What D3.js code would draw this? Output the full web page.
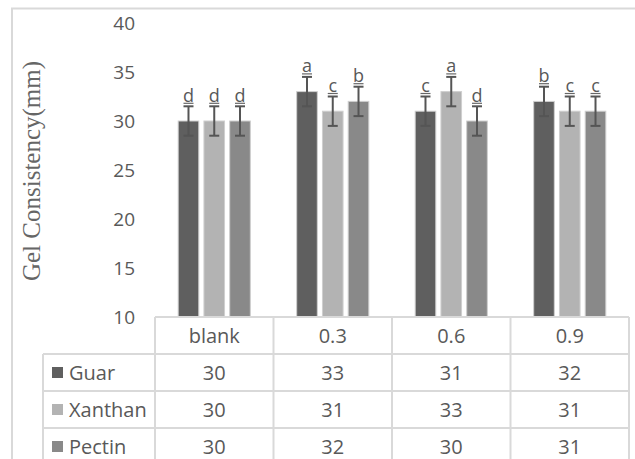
<!DOCTYPE html>
<html><head><meta charset="utf-8">
<script src="https://cdn.jsdelivr.net/npm/d3@7"></script>
<style>body{margin:0;background:#fff}svg{display:block}</style>
</head><body>
<svg id="c" width="635" height="459"></svg>
<script>
const categories = ["blank", "0.3", "0.6", "0.9"];
const seriesNames = ["Guar", "Xanthan", "Pectin"];
const guar = [30, 33, 31, 32];
const xanthan = [30, 31, 33, 31];
const pectin = [30, 32, 30, 31];
const guarErr = [1.5, 1.5, 1.5, 1.5];
const xanthanErr = [1.5, 1.5, 1.5, 1.5];
const pectinErr = [1.5, 1.5, 1.5, 1.5];
const guarLetters = ["d", "a", "c", "b"];
const xanthanLetters = ["d", "c", "a", "c"];
const pectinLetters = ["d", "b", "d", "c"];
const yTicks = [10, 15, 20, 25, 30, 35, 40];
const yTitle = "Gel Consistency(mm)";

const colors = {Guar: "#5f5f5f", Xanthan: "#b3b3b3", Pectin: "#898989"};
const series = [
  {name: "Guar", values: guar, err: guarErr, letters: guarLetters},
  {name: "Xanthan", values: xanthan, err: xanthanErr, letters: xanthanLetters},
  {name: "Pectin", values: pectin, err: pectinErr, letters: pectinLetters}
];

const svg = d3.select("#c");
const grid = "#d9d9d9";
const textCol = "#595959";

// outer border
svg.append("path").attr("d", "M12,460 V8.5 H640").attr("fill", "none")
  .attr("stroke", grid).attr("stroke-width", 2);

const tableLeft = 155, tableRight = 629, legLeft = 43;
const y = d3.scaleLinear().domain([10, 40]).range([317, 23]);
const x0 = d3.scaleBand().domain(categories).range([tableLeft, tableRight]).padding(0);
const x1 = d3.scaleBand().domain(seriesNames).range([0, x0.bandwidth()]).paddingInner(0.2).paddingOuter(0.9);

// y ticks (labels only)
svg.append("g").selectAll("text").data(yTicks).join("text")
  .attr("x", 135).attr("y", d => y(d)).attr("dy", "0.35em")
  .attr("text-anchor", "end").attr("fill", textCol)
  .style("font-family", "'Open Sans'").style("font-size", "19px")
  .text(d => d);

// y title
svg.append("text")
  .attr("transform", `translate(40,171) rotate(-90)`)
  .attr("text-anchor", "middle").attr("fill", "#666")
  .style("font-family", "'Liberation Serif'").style("font-size", "25px")
  .text(yTitle);

// bars
const gBars = svg.append("g");
series.forEach(s => {
  const g = gBars.append("g");
  g.selectAll("rect").data(categories).join("rect")
    .attr("x", (c) => x0(c) + x1(s.name))
    .attr("width", x1.bandwidth())
    .attr("y", (c, i) => y(s.values[i]))
    .attr("height", (c, i) => y(10) - y(s.values[i]))
    .attr("fill", colors[s.name])
    .attr("stroke", "#cfcfcf").attr("stroke-width", 1);
  // error bars
  categories.forEach((c, i) => {
    const cx = x0(c) + x1(s.name) + x1.bandwidth() / 2;
    const top = y(s.values[i] + s.err[i]), bot = y(s.values[i] - s.err[i]);
    g.append("line").attr("x1", cx).attr("x2", cx).attr("y1", top).attr("y2", bot)
      .attr("stroke", "#555").attr("stroke-width", 2);
    [top, bot].forEach(yy => g.append("line").attr("x1", cx - 5).attr("x2", cx + 5)
      .attr("y1", yy).attr("y2", yy).attr("stroke", "#555").attr("stroke-width", 2));
    g.append("line").attr("x1", cx - 5).attr("x2", cx + 5)
      .attr("y1", top - 3).attr("y2", top - 3).attr("stroke", "#666").attr("stroke-width", 1.2);
    g.append("text").attr("x", cx).attr("y", top - 4.5)
      .attr("text-anchor", "middle").attr("fill", textCol)
      .style("font-family", "'Open Sans'").style("font-size", "18px")
      .text(s.letters[i]);
  });
});

// data table
const rowTops = [317, 354, 391, 428, 465];
const t = svg.append("g").attr("stroke", grid).attr("stroke-width", 2).attr("fill", "none");
t.append("line").attr("x1", tableLeft).attr("x2", tableRight).attr("y1", rowTops[0]).attr("y2", rowTops[0]);
rowTops.slice(1, 4).forEach(r => t.append("line").attr("x1", legLeft).attr("x2", tableRight).attr("y1", r).attr("y2", r));
t.append("line").attr("x1", legLeft).attr("x2", legLeft).attr("y1", rowTops[1]).attr("y2", 460);
categories.forEach(c => t.append("line").attr("x1", x0(c)).attr("x2", x0(c)).attr("y1", rowTops[0]).attr("y2", 460));
t.append("line").attr("x1", tableRight).attr("x2", tableRight).attr("y1", rowTops[0]).attr("y2", 460);

const tf = (sel) => sel.attr("fill", textCol).style("font-family", "'Open Sans'").style("font-size", "20px");
svg.append("g").selectAll("text").data(categories).join("text")
  .attr("x", c => x0(c) + x0.bandwidth() / 2).attr("y", (rowTops[0] + rowTops[1]) / 2)
  .attr("dy", "0.35em").attr("text-anchor", "middle").call(tf).text(c => c);

series.forEach((s, k) => {
  const cy = (rowTops[k + 1] + rowTops[k + 2]) / 2;
  svg.append("rect").attr("x", 52).attr("y", cy - 5.5).attr("width", 11).attr("height", 11).attr("fill", colors[s.name]);
  svg.append("text").attr("x", 69).attr("y", cy).attr("dy", "0.35em").call(tf).text(s.name);
  svg.append("g").selectAll("text").data(categories).join("text")
    .attr("x", c => x0(c) + x0.bandwidth() / 2).attr("y", cy).attr("dy", "0.35em")
    .attr("text-anchor", "middle").call(tf).text((c, i) => s.values[i]);
});
</script>
</body></html>
